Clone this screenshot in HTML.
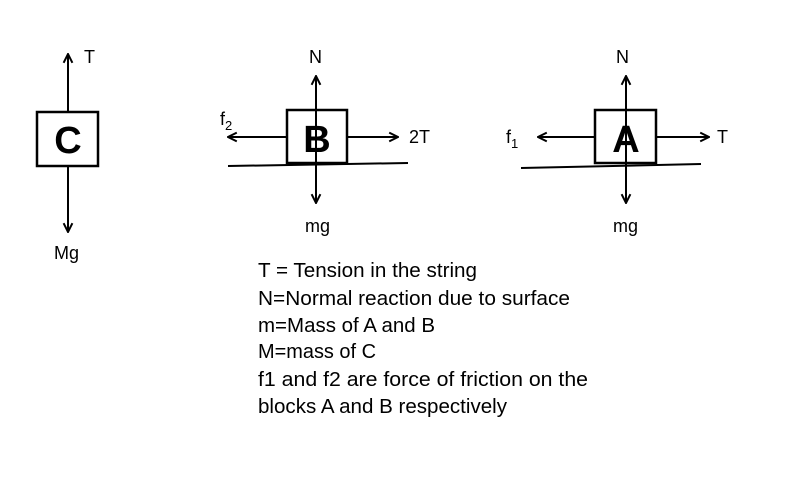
<!DOCTYPE html>
<html><head><style>html,body{margin:0;padding:0;background:#fff}</style></head>
<body>
<svg width="800" height="475" viewBox="0 0 800 475" xmlns="http://www.w3.org/2000/svg" font-family="Liberation Sans, sans-serif" fill="#000">
<defs>
<marker id="a" viewBox="0 0 10 10" refX="9" refY="5" markerWidth="11" markerHeight="11" orient="auto" markerUnits="userSpaceOnUse">
<path d="M1,1 L9,5 L1,9" fill="none" stroke="#000" stroke-width="1.8"/>
</marker>
</defs>
<g stroke="#000" stroke-width="2" fill="none">
<rect x="37" y="112" width="61" height="54" stroke-width="2.5"/>
<line x1="68" y1="112" x2="68" y2="54" marker-end="url(#a)"/>
<line x1="68" y1="166" x2="68" y2="232" marker-end="url(#a)"/>
<rect x="287" y="110" width="60" height="53" stroke-width="2.5"/>
<line x1="228" y1="166" x2="408" y2="163"/>
<line x1="316" y1="203" x2="316" y2="76" marker-end="url(#a)"/>
<line x1="316" y1="140" x2="316" y2="203" marker-end="url(#a)"/>
<line x1="287" y1="137" x2="228" y2="137" marker-end="url(#a)"/>
<line x1="347" y1="137" x2="398" y2="137" marker-end="url(#a)"/>
<rect x="595" y="110" width="61" height="53" stroke-width="2.5"/>
<line x1="521" y1="168" x2="701" y2="164"/>
<line x1="626" y1="203" x2="626" y2="76" marker-end="url(#a)"/>
<line x1="626" y1="140" x2="626" y2="203" marker-end="url(#a)"/>
<line x1="595" y1="137" x2="538" y2="137" marker-end="url(#a)"/>
<line x1="656" y1="137" x2="709" y2="137" marker-end="url(#a)"/>
</g>
<g font-size="38" font-weight="bold" text-anchor="middle">
<text x="68" y="153">C</text>
<text x="317" y="152">B</text>
<text x="626" y="152">A</text>
</g>
<g font-size="18">
<text x="84" y="63">T</text>
<text x="54" y="259">Mg</text>
<text x="309" y="63">N</text>
<text x="220" y="125">f<tspan font-size="13" dy="5">2</tspan></text>
<text x="409" y="143">2T</text>
<text x="305" y="232">mg</text>
<text x="616" y="63">N</text>
<text x="506" y="143">f<tspan font-size="13" dy="5">1</tspan></text>
<text x="717" y="143">T</text>
<text x="613" y="232">mg</text>
</g>
<g font-size="20">
<text x="258" y="277" textLength="219" lengthAdjust="spacingAndGlyphs">T = Tension in the string</text>
<text x="258" y="305" textLength="312" lengthAdjust="spacingAndGlyphs">N=Normal reaction due to surface</text>
<text x="258" y="332" textLength="177" lengthAdjust="spacingAndGlyphs">m=Mass of A and B</text>
<text x="258" y="358" textLength="118" lengthAdjust="spacingAndGlyphs">M=mass of C</text>
<text x="258" y="386" textLength="330" lengthAdjust="spacingAndGlyphs">f1 and f2 are force of friction on the</text>
<text x="258" y="413" textLength="249" lengthAdjust="spacingAndGlyphs">blocks A and B respectively</text>
</g>
</svg>
</body></html>
